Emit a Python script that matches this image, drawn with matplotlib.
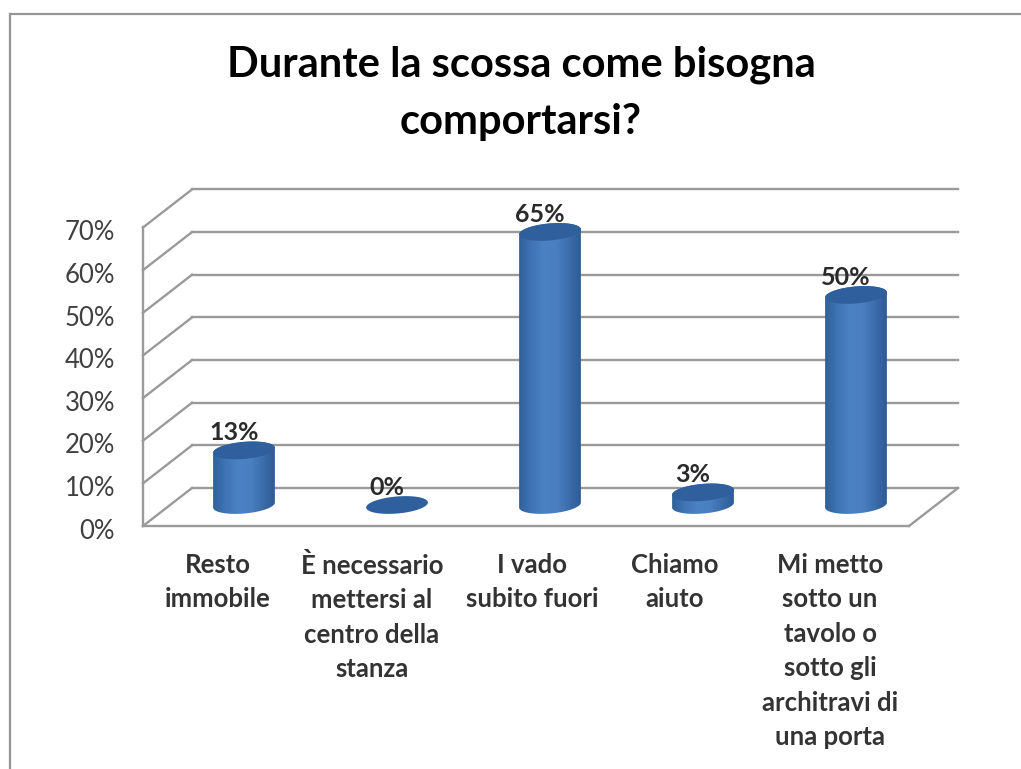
import numpy as np
import matplotlib
matplotlib.use("Agg")
import matplotlib.pyplot as plt
from matplotlib.patches import Polygon
from matplotlib.colors import LinearSegmentedColormap
from matplotlib.lines import Line2D
from matplotlib.transforms import ScaledTranslation

plt.rcParams['font.family'] = ['Lato', 'DejaVu Sans']

title = "Durante la scossa come bisogna\ncomportarsi?"
categories = ["Resto\nimmobile",
              "È necessario\nmettersi al\ncentro della\nstanza",
              "I vado\nsubito fuori",
              "Chiamo\naiuto",
              "Mi metto\nsotto un\ntavolo o\nsotto gli\narchitravi di\nuna porta"]
values = [13, 0, 65, 3, 50]
y_ticks = [0, 10, 20, 30, 40, 50, 60, 70]
y_labels = ["0%", "10%", "20%", "30%", "40%", "50%", "60%", "70%"]

# layout, in pixels of the 1021x769 picture
W, H = 1021, 769
left, right, bottom, top = 143, 958, 526, 189
px_x = 153.0        # one category
px_y = 4.265        # one percent
first_bar = 244
depth_x = 49
depth_y = 38
base_y = 21         # bar base centre above the front edge
bar_w = 62
bar_scale = 0.985   # bars stand further back than the front wall
ell_h = 17
tilt = 5            # degrees
label_shift = [-26, -25, -18, -28, -26]

fig = plt.figure(figsize=(W/100, H/100), dpi=100, facecolor='white')
ax = fig.add_axes([left/W, 1-bottom/H, (right-left)/W, (bottom-top)/H])
xmin = (left-first_bar)/px_x
xmax = (right-first_bar)/px_x
ymax = (bottom-top)/px_y
ax.set_xlim(xmin, xmax)
ax.set_ylim(0, ymax)
for s in ax.spines.values():
    s.set_visible(False)
ax.patch.set_alpha(0)

# picture frame
for xs, ys in [((10, 10), (769, 14)), ((10, 1021), (14, 14))]:
    fig.add_artist(Line2D([x/W for x in xs], [1-y/H for y in ys],
                          color='#969696', lw=1.6))

dx = depth_x/px_x
dy = depth_y/px_y
line_kw = dict(color='#9a9a9a', lw=1.7, clip_on=False, zorder=1)

# back wall grid and the side wall
for v in y_ticks:
    ax.plot([xmin+dx, xmax], [v+dy, v+dy], **line_kw)
    ax.plot([xmin, xmin+dx], [v, v+dy], **line_kw)
ax.plot([xmin, xmin], [0, 70], **line_kw)
ax.plot([xmin, xmax-dx], [0, 0], **line_kw)
ax.plot([xmax-dx, xmax], [0, dy], **line_kw)

body_cmap = LinearSegmentedColormap.from_list(
    "body", ['#30609a', '#3f74b6', '#4b82c4', '#4a80c2', '#3c6eac', '#2e5b92'])
top_color = '#2f5f9c'


def ellipse_pts(cx, cy, t):
    # tilted ellipse, worked out in pixels then put back in data units
    a = bar_w/2
    b = ell_h/2
    th = np.radians(tilt)
    ex = a*np.cos(t)*np.cos(th) - b*np.sin(t)*np.sin(th)
    ey = a*np.cos(t)*np.sin(th) + b*np.sin(t)*np.cos(th)
    return cx + ex/px_x, cy + ey/px_y


base = base_y/px_y
grad = np.linspace(0, 1, 256).reshape(1, -1)

for i, v in enumerate(values):
    ttop = v*bar_scale + base
    if v > 0:
        lower = np.linspace(np.pi, 2*np.pi, 60)
        bx, by = ellipse_pts(i, base, lower)
        ux, uy = ellipse_pts(i, ttop, np.linspace(0, np.pi, 60))
        verts = np.column_stack([np.r_[bx, ux], np.r_[by, uy]])
        poly = Polygon(verts, closed=True, transform=ax.transData,
                       fc='none', ec='none')
        ax.add_patch(poly)
        im = ax.imshow(grad, cmap=body_cmap, aspect='auto', zorder=3,
                       extent=[i-bar_w/2/px_x, i+bar_w/2/px_x, 0, ymax])
        im.set_clip_path(poly)
    ex, ey = ellipse_pts(i, ttop, np.linspace(0, 2*np.pi, 120))
    ax.fill(ex, ey, color=top_color, zorder=4, lw=0)
    ax.text(i-(10/px_x), ttop+ell_h/2/px_y-0.5, "%d%%" % v, ha='center', va='bottom',
            fontsize=18, fontweight='bold', color='#2a2a2a', zorder=5)

ax.set_xlim(xmin, xmax)
ax.set_ylim(0, ymax)

ax.set_yticks(y_ticks)
ax.set_yticklabels(y_labels, fontsize=18.5, color='#404040')
ax.tick_params(axis='y', length=0, pad=20)
ax.set_xticks([])
# the labels sit a little under their grid lines
for lab in ax.get_yticklabels():
    lab.set_transform(lab.get_transform() + ScaledTranslation(0, -2/72, fig.dpi_scale_trans))

for i, c in enumerate(categories):
    ax.annotate(c, xy=(i+label_shift[i]/px_x, 0), xycoords='data',
                xytext=(0, -27), textcoords='offset pixels',
                ha='center', va='top', fontsize=18.5, fontweight='bold',
                color='#333333', linespacing=1.52, annotation_clip=False)

fig.text(521/W, 1-93/H, title, ha='center', va='center', fontsize=30,
         fontweight='bold', color='black', linespacing=1.6)

fig.savefig("out.png", dpi=100)
